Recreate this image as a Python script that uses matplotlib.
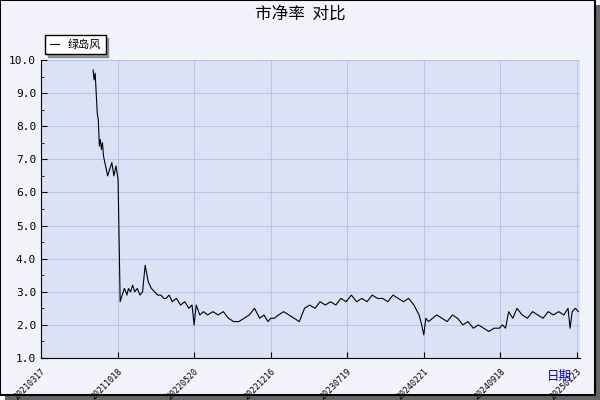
import matplotlib.pyplot as plt
from matplotlib.patches import Rectangle

plt.rcParams['font.family'] = ['Noto Sans CJK SC', 'DejaVu Sans']

tick_labels = ['20210317', '20211018', '20220520', '20221216', '20230719',
               '20240221', '20240918', '20250123']
# trading-day index of each tick
tick_pos = [0, 147, 294, 441, 588, 735, 882, 1029]

day = [100, 102, 104, 106, 108, 110, 112, 114, 116, 118, 120, 124, 128, 132, 136, 140, 144,
       148, 152, 156, 160, 163, 165, 168, 172, 176, 180, 185, 190, 195, 200, 206, 212, 218,
       224, 230, 236, 240, 246, 252, 260, 268, 276, 284, 290, 294, 298, 305, 312, 320, 330,
       340, 350, 360, 370, 380, 390, 400, 410, 420, 428, 436, 441, 448, 456, 466, 476, 486,
       496, 506, 516, 526, 536, 546, 556, 566, 576, 586, 596, 606, 616, 626, 636, 646, 656,
       666, 676, 686, 696, 706, 716, 726, 731, 735, 739, 744, 752, 760, 770, 780, 790, 800,
       810, 820, 830, 840, 850, 860, 870, 880, 886, 892, 898, 906, 914, 924, 934, 944, 954,
       964, 974, 984, 994, 1004, 1012, 1016, 1020, 1026, 1032]
pb = [9.7, 9.4, 9.6, 9.0, 8.4, 8.2, 7.4, 7.6, 7.3, 7.5, 7.1, 6.8, 6.5, 6.7, 6.9, 6.5, 6.8,
      6.4, 2.7, 2.9, 3.1, 3.0, 2.9, 3.1, 3.0, 3.2, 3.0, 3.1, 2.9, 3.0, 3.8, 3.3, 3.1, 3.0,
      2.9, 2.9, 2.8, 2.8, 2.9, 2.7, 2.8, 2.6, 2.7, 2.5, 2.6, 2.0, 2.6, 2.3, 2.4, 2.3, 2.4,
      2.3, 2.4, 2.2, 2.1, 2.1, 2.2, 2.3, 2.5, 2.2, 2.3, 2.1, 2.2, 2.2, 2.3, 2.4, 2.3, 2.2,
      2.1, 2.5, 2.6, 2.5, 2.7, 2.6, 2.7, 2.6, 2.8, 2.7, 2.9, 2.7, 2.8, 2.7, 2.9, 2.8, 2.8,
      2.7, 2.9, 2.8, 2.7, 2.8, 2.6, 2.3, 2.0, 1.7, 2.2, 2.1, 2.2, 2.3, 2.2, 2.1, 2.3, 2.2,
      2.0, 2.1, 1.9, 2.0, 1.9, 1.8, 1.9, 1.9, 2.0, 1.9, 2.4, 2.2, 2.5, 2.3, 2.2, 2.4, 2.3,
      2.2, 2.4, 2.3, 2.4, 2.3, 2.5, 1.9, 2.4, 2.5, 2.4]

fig = plt.figure(figsize=(6, 4), dpi=100, facecolor='white')
fig.patches.append(Rectangle((5 / 600, 0), 595 / 600, 395 / 400, transform=fig.transFigure,
                             facecolor='#666666', edgecolor='none', zorder=-2))
fig.patches.append(Rectangle((0, 5 / 400), 595 / 600, 395 / 400, transform=fig.transFigure,
                             facecolor='#F2F3FB', edgecolor='black', linewidth=1.5, zorder=-1))

ax = fig.add_axes([41 / 600, 42 / 400, 539 / 600, 298 / 400])
ax.set_facecolor('#DCE2F6')
ax.plot(day, pb, color='black', linewidth=0.8, label='绿岛风')
ax.set_xlim(0, 1035)
ax.set_ylim(1.0, 10.0)
ax.set_yticks([1, 2, 3, 4, 5, 6, 7, 8, 9, 10])
ax.set_yticklabels([f'{v:.1f}' for v in range(1, 11)], family='DejaVu Sans Mono', fontsize=8)
ax.set_yticks([v + 0.5 for v in range(1, 10)], minor=True)
ax.set_xticks(tick_pos)
ax.set_xticklabels(tick_labels, rotation=45, ha='right', rotation_mode='anchor',
                   fontsize=6, family='DejaVu Sans Mono')
ax.grid(True, color='#B8C4EC', linewidth=0.8)
for s in ['top', 'right']:
    ax.spines[s].set_visible(False)
ax.tick_params(direction='in', length=4)
ax.tick_params(axis='x', pad=6)
ax.tick_params(which='minor', direction='in', length=2)

fig.text(0.5, 0.965, '市净率  对比', ha='center', va='center', fontsize=12)
fig.text(0.933, 0.06, '日期', ha='center', va='center', fontsize=9, color='blue')
leg = ax.legend(loc='lower left', bbox_to_anchor=(-0.002, 1.0), frameon=True, fancybox=False,
                shadow=True, fontsize=8, handlelength=0.8, borderpad=0.4)
leg.get_frame().set_edgecolor('black')

fig.savefig('out.png', dpi=100)
